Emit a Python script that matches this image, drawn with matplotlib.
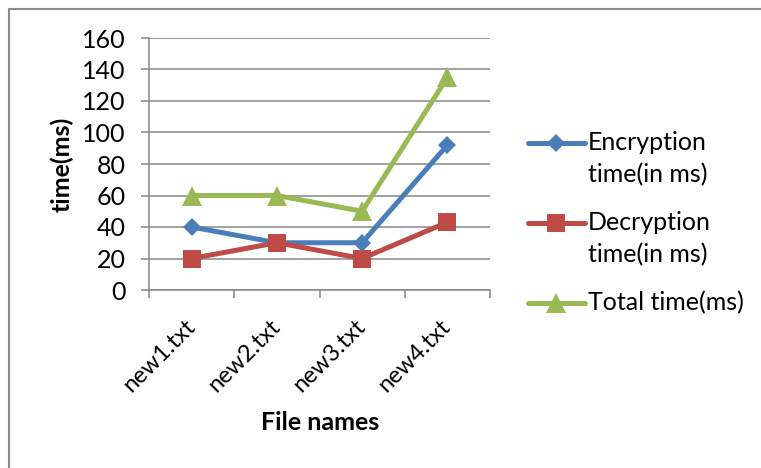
#!/usr/bin/env python3
"""Encryption / decryption timing per input file, Excel-style line chart."""

import matplotlib

matplotlib.use("Agg")
import matplotlib.pyplot as plt  # noqa: E402
from matplotlib.lines import Line2D  # noqa: E402

FILES = ["new1.txt", "new2.txt", "new3.txt", "new4.txt"]
ENCRYPTION_MS = [40, 30, 30, 92]
DECRYPTION_MS = [20, 30, 20, 43]
TOTAL_MS = [60, 60, 50, 135]

SERIES = [
    ("Encryption\ntime(in ms)", ENCRYPTION_MS, "#4A7EBB", "D", 9),
    ("Decryption\ntime(in ms)", DECRYPTION_MS, "#BE4B48", "s", 13),
    ("Total time(ms)", TOTAL_MS, "#98B954", "^", 14),
]

GRID = "#868686"
W, H = 761, 468


def px(x, y):
    """Pixel position (from top-left) to figure fraction."""
    return x / W, 1 - y / H


plt.rcParams.update({"font.family": ["Lato", "DejaVu Sans"], "font.size": 18})

fig = plt.figure(figsize=(W / 100, H / 100), dpi=100)
left, top = px(149, 38)
right, bottom = px(490, 290)
ax = fig.add_axes([left, bottom, right - left, top - bottom])

xs = list(range(len(FILES)))
for label, values, color, marker, ms in SERIES:
    ax.plot(xs, values, color=color, linewidth=3.6, marker=marker,
            markersize=ms, markeredgewidth=0, label=label, zorder=3)

ax.set_xlim(-0.5, len(FILES) - 0.5)
ax.set_ylim(0, 160)
ax.set_yticks(range(0, 161, 20))
ax.yaxis.grid(True, color=GRID, linewidth=1.1)
ax.set_axisbelow(True)

# category boundaries carry the tick marks, labels sit at the centres
ax.set_xticks([i - 0.5 for i in range(len(FILES) + 1)])
ax.set_xticklabels([])
ax.set_xticks(xs, minor=True)
ax.set_xticklabels(FILES, minor=True, rotation=45, ha="right",
                   va="center", rotation_mode="anchor", fontsize=17)
ax.tick_params(axis="x", which="major", length=6, width=1.1, color=GRID)
ax.tick_params(axis="x", which="minor", length=0, pad=24)
ax.tick_params(axis="y", length=6, width=1.1, color=GRID, pad=11)

for side in ("top", "right"):
    ax.spines[side].set_visible(False)
for side in ("left", "bottom"):
    ax.spines[side].set_color(GRID)
    ax.spines[side].set_linewidth(1.1)

fig.text(*px(62, 164), "time(ms)", rotation=90, ha="center", va="center",
         fontsize=18, fontweight="bold")
fig.text(*px(320, 422), "File names", ha="center", va="center",
         fontsize=18, fontweight="bold")

# legend drawn by hand so the key sits on the first line of each label
for (label, values, color, marker, ms), y in zip(SERIES, (143, 223, 303)):
    x0, y0 = px(528, y)
    x1, _ = px(585, y)
    fig.add_artist(Line2D([x0, (x0 + x1) / 2, x1], [y0, y0, y0],
                          transform=fig.transFigure, color=color,
                          linewidth=3.6, marker=marker, markersize=ms,
                          markeredgewidth=0, markevery=[1],
                          solid_capstyle="round"))
    for i, line in enumerate(label.split("\n")):
        fig.text(*px(588, y + 32 * i), line, ha="left", va="center")

# thin frame around the chart area
fig.add_artist(Line2D([px(9, 0)[0], px(9, 0)[0], 1.0],
                      [0.0, px(0, 9)[1], px(0, 9)[1]],
                      transform=fig.transFigure, color="#8C8C8C",
                      linewidth=1.5))

fig.savefig("out.png", dpi=100)
